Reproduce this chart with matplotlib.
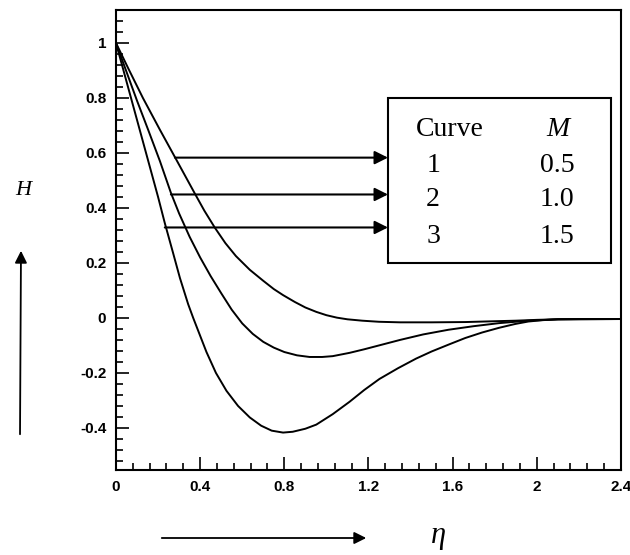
import matplotlib
matplotlib.use('Agg')
import matplotlib.pyplot as plt
from matplotlib.patches import Rectangle, FancyArrowPatch
from matplotlib.ticker import MultipleLocator

# curve data (eta, H)
eta_1 = [0, 0.06, 0.128, 0.209, 0.28, 0.33, 0.375, 0.42, 0.47, 0.52, 0.57, 0.636, 0.7, 0.75,
         0.794, 0.85, 0.9, 0.952, 1.0, 1.05, 1.1, 1.17, 1.25, 1.35, 1.5, 1.66, 1.8, 1.9, 2.0,
         2.1, 2.4]
H_1 = [1, 0.905, 0.8, 0.684, 0.585, 0.515, 0.452, 0.39, 0.328, 0.272, 0.225, 0.175, 0.135,
       0.105, 0.083, 0.058, 0.038, 0.022, 0.01, 0.001, -0.005, -0.01, -0.014, -0.016, -0.016,
       -0.015, -0.012, -0.01, -0.007, -0.005, -0.004]

eta_2 = [0, 0.05, 0.1, 0.153, 0.209, 0.261, 0.3, 0.35, 0.4, 0.45, 0.5, 0.55, 0.6, 0.65, 0.7,
         0.75, 0.8, 0.86, 0.92, 0.98, 1.03, 1.11, 1.18, 1.25, 1.35, 1.46, 1.58, 1.7, 1.82,
         1.96, 2.1, 2.4]
H_2 = [1, 0.895, 0.79, 0.684, 0.57, 0.455, 0.38, 0.295, 0.22, 0.152, 0.09, 0.03, -0.02,
       -0.058, -0.087, -0.108, -0.124, -0.136, -0.142, -0.142, -0.139, -0.127, -0.114, -0.1,
       -0.08, -0.06, -0.043, -0.03, -0.019, -0.01, -0.005, -0.004]

eta_3 = [0, 0.05, 0.1, 0.15, 0.2, 0.232, 0.27, 0.304, 0.343, 0.367, 0.4, 0.43, 0.475, 0.525,
         0.58, 0.636, 0.69, 0.74, 0.794, 0.84, 0.9, 0.952, 1.03, 1.11, 1.18, 1.252, 1.34,
         1.426, 1.5, 1.584, 1.66, 1.74, 1.82, 1.897, 1.96, 2.03, 2.1, 2.2, 2.4]
H_3 = [1, 0.86, 0.72, 0.58, 0.44, 0.345, 0.24, 0.145, 0.05, 0.0, -0.065, -0.124, -0.2,
       -0.265, -0.32, -0.362, -0.392, -0.41, -0.417, -0.414, -0.403, -0.388, -0.35, -0.305,
       -0.262, -0.222, -0.183, -0.148, -0.122, -0.096, -0.073, -0.053, -0.036, -0.022,
       -0.013, -0.008, -0.005, -0.004, -0.004]

curve_ids = ['1', '2', '3']
M_values = ['0.5', '1.0', '1.5']

# where the pointer arrows leave each curve
arrow_eta = [0.28, 0.261, 0.232]
arrow_H = [0.583, 0.449, 0.329]

x_ticks = [0, 0.4, 0.8, 1.2, 1.6, 2.0, 2.4]
x_tick_labels = ['0', '0.4', '0.8', '1.2', '1.6', '2', '2.4']
y_ticks = [-0.4, -0.2, 0, 0.2, 0.4, 0.6, 0.8, 1.0]
y_tick_labels = ['-0.4', '-0.2', '0', '0.2', '0.4', '0.6', '0.8', '1']

serif = ['Liberation Serif', 'DejaVu Serif']
tick_font = {'family': 'Liberation Sans', 'weight': 'bold', 'size': 11}

fig = plt.figure(figsize=(6.3, 5.55), dpi=100)
ax = fig.add_axes([0.1841, 0.1532, 0.8016, 0.8288])

for xs, ys in [(eta_1, H_1), (eta_2, H_2), (eta_3, H_3)]:
    ax.plot(xs, ys, color='black', lw=1.4)

ax.set_xlim(0, 2.4)
ax.set_ylim(-0.553, 1.12)

ax.set_xticks(x_ticks)
ax.set_xticklabels(x_tick_labels, fontdict=tick_font)
ax.set_yticks(y_ticks)
ax.set_yticklabels(y_tick_labels, fontdict=tick_font)
ax.xaxis.set_minor_locator(MultipleLocator(0.08))
ax.yaxis.set_minor_locator(MultipleLocator(0.04))

ax.tick_params(which='both', direction='in', top=False, right=False, width=1.2, color='black')
ax.tick_params(which='major', length=9.4, pad=7)
ax.tick_params(which='minor', length=5)
for s in ax.spines.values():
    s.set_linewidth(1.5)

# legend table box
box_x0, box_x1 = 0.5386, 0.980
box_y0, box_y1 = 0.45, 0.8087
ax.add_patch(Rectangle((box_x0, box_y0), box_x1 - box_x0, box_y1 - box_y0,
                       transform=ax.transAxes, fill=False, lw=1.5, ec='black', zorder=5))

ax.text(0.661, 0.741, 'Curve', transform=ax.transAxes, ha='center', va='center',
        family=serif, fontsize=20)
ax.text(0.875, 0.741, 'M', transform=ax.transAxes, ha='center', va='center',
        family=serif, fontsize=20, style='italic')
row_y = [0.663, 0.587, 0.5065]
for i in range(3):
    ax.text(0.628, row_y[i], curve_ids[i], transform=ax.transAxes, ha='center', va='center',
            family=serif, fontsize=20)
    ax.text(0.873, row_y[i], M_values[i], transform=ax.transAxes, ha='center', va='center',
            family=serif, fontsize=20)

# arrows from curves to the box
for i in range(3):
    ax.annotate('', xy=(box_x0 * 2.4, arrow_H[i]), xytext=(arrow_eta[i], arrow_H[i]),
                arrowprops=dict(arrowstyle='-|>', mutation_scale=20, lw=1.5, color='black',
                                shrinkA=0, shrinkB=0))

# axis names with arrows, placed in figure pixels
fig.text(23 / 630, 1 - 190 / 555, 'H', family=serif, style='italic', fontsize=16,
         ha='center', va='center')
fig.patches.append(FancyArrowPatch(
    (20 / 630, 1 - 437 / 555), (21 / 630, 1 - 248 / 555), transform=fig.transFigure,
    arrowstyle='-|>', mutation_scale=18, lw=1.3, color='black'))

fig.patches.append(FancyArrowPatch(
    (159 / 630, 1 - 538 / 555), (369 / 630, 1 - 538 / 555), transform=fig.transFigure,
    arrowstyle='-|>', mutation_scale=18, lw=1.3, color='black'))
fig.text(438 / 630, 1 - 536 / 555, 'η', family=serif, style='italic', fontsize=22,
         ha='center', va='center')

plt.savefig('out.png', dpi=100)
